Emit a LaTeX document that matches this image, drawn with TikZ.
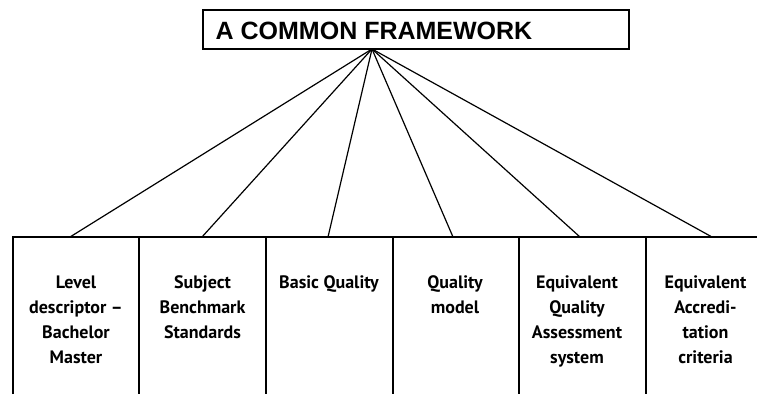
\documentclass[tikz,border=0pt]{standalone}
\usepackage{fontspec}
\setmainfont{Liberation Sans}
\newfontfamily\colfont{PT Sans}
\usepackage{tikz}

\begin{document}
\begin{tikzpicture}[x=1pt,y=-1pt]
				\useasboundingbox (0,0) rectangle (757,394);
				
				% title box
				\node[shape=rectangle,draw=black,line width=1.6pt,minimum width=426pt,minimum height=39pt,inner sep=0pt] (F) at (416,29.5) {};
				\node[font=\fontsize{25}{28}\selectfont\bfseries] (T) at (374,31) {A COMMON FRAMEWORK};
				\coordinate (hub) at (372,49);
				
				% columns
				\draw[line width=1.6pt] (13,394) -- (13,237) -- (757,237);
				\draw[line width=1.6pt] (139,237) -- (139,394);
				\draw[line width=1.6pt] (266,237) -- (266,394);
				\draw[line width=1.6pt] (393,237) -- (393,394);
				\draw[line width=1.6pt] (519,237) -- (519,394);
				\draw[line width=1.6pt] (646,237) -- (646,394);
				
				\tikzset{col/.style={anchor=north,align=center,inner sep=0pt,font=\colfont\bfseries\fontsize{18}{25}\selectfont}}
				\node[col] (A) at (76,275.5) {Level\\descriptor –\\Bachelor\\Master};
				\node[col] (B) at (202.5,275.5) {Subject\\Benchmark\\Standards};
				\node[col] (C) at (329,275.5) {Basic Quality};
				\node[col] (D) at (455,275.5) {Quality\\model};
				\node[col] (E) at (577,275.5) {Equivalent\\Quality\\Assessment\\system};
				\node[col] (G) at (705.5,275.5) {Equivalent\\Accredi-\\tation\\criteria};
				
				\coordinate (a) at (70,237);
				\coordinate (b) at (202,237);
				\coordinate (c) at (328,237);
				\coordinate (d) at (453,237);
				\coordinate (e) at (580,237);
				\coordinate (g) at (712,237);
				
				\path [-, line width=1.2pt, black] (hub) edge (a);
				\path [-, line width=1.2pt, black] (hub) edge (b);
				\path [-, line width=1.2pt, black] (hub) edge (c);
				\path [-, line width=1.2pt, black] (hub) edge (d);
				\path [-, line width=1.2pt, black] (hub) edge (e);
				\path [-, line width=1.2pt, black] (hub) edge (g);
				\end{tikzpicture}
\end{document}
